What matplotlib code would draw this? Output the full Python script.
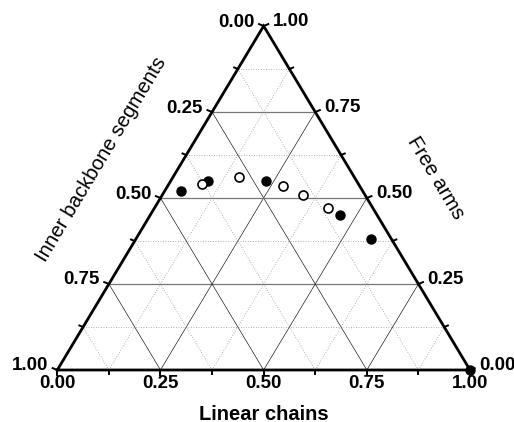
import numpy as np
import matplotlib
matplotlib.use('Agg')
import matplotlib.pyplot as plt

plt.rcParams['font.family'] = ['Liberation Sans', 'DejaVu Sans']

# ternary data (fractions): linear chains, inner backbone segments, free arms
filled_linear = [0.04, 0.09, 0.23, 0.46, 0.57, 1.00]
filled_inner = [0.44, 0.36, 0.22, 0.09, 0.05, 0.00]
filled_free = [0.52, 0.55, 0.55, 0.45, 0.38, 0.00]

open_linear = [0.08, 0.16, 0.28, 0.34, 0.42]
open_inner = [0.38, 0.28, 0.185, 0.15, 0.11]
open_free = [0.54, 0.56, 0.535, 0.51, 0.47]

tick_values = [0.0, 0.25, 0.5, 0.75, 1.0]
tick_labels = ['0.00', '0.25', '0.50', '0.75', '1.00']


def to_xy(linear, free):
    linear = np.asarray(linear, dtype=float)
    free = np.asarray(free, dtype=float)
    return linear + free / 2, free


W, H = 514, 422
x0, ybot, tw, th = 57.3, 370, 412.7, 344
fig = plt.figure(figsize=(W / 100, H / 100), dpi=100)
ax = fig.add_axes([x0 / W, (H - ybot) / H, tw / W, th / H])
ax.set_xlim(0, 1)
ax.set_ylim(0, 1)
ax.axis('off')

# pixel -> data helpers for offsets
px = 1 / tw
py = 1 / th

# grid
levels = np.arange(1, 8) * 0.125
for t in levels:
    major = abs(t / 0.25 - round(t / 0.25)) < 1e-9
    if major:
        kw = dict(color='#222222', lw=0.5, ls='-', zorder=1)
        kwh = dict(color='#777777', lw=0.9, ls='-', zorder=1)
    else:
        kw = dict(color='#999999', lw=0.6, ls=(0, (1, 2)), zorder=1)
        kwh = kw
    # constant free arms (horizontal)
    ax.plot([t / 2, 1 - t / 2], [t, t], **kwh)
    # constant linear chains
    x, y = to_xy([t, t], [0, 1 - t])
    ax.plot(x, y, **kw)
    # constant inner backbone
    x, y = to_xy([1 - t, 0], [0, 1 - t])
    ax.plot(x, y, **kw)

# triangle frame
ax.plot([0, 1, 0.5, 0], [0, 0, 1, 0], color='black', lw=2.0,
        solid_joinstyle='miter', zorder=3, clip_on=False)

# ticks
for t in np.arange(0, 9) * 0.125:
    major = abs(t / 0.25 - round(t / 0.25)) < 1e-9
    L = 5 if major else 4
    # bottom axis
    ax.plot([t, t], [0, -L * py], color='black', lw=1.4, clip_on=False, zorder=3)
    # left axis (free = t on left edge)
    lx, ly = to_xy(0, t)
    ax.plot([lx, lx - L * 0.93 * px], [ly, ly + L * 0.38 * py],
            color='black', lw=1.4, clip_on=False, zorder=3)
    # right axis
    rx, ry = to_xy(1 - t, t)
    ax.plot([rx, rx + L * 0.93 * px], [ry, ry + L * 0.38 * py],
            color='black', lw=1.4, clip_on=False, zorder=3)

tfs = 13.5
for v, lab in zip(tick_values, tick_labels):
    ax.text(v, -13 * py, lab, ha='center', va='center', fontsize=tfs,
            fontweight='bold', clip_on=False)
    # left axis: inner backbone value v at free = 1 - v
    lx, ly = to_xy(0, 1 - v)
    ax.text(lx - 9 * px, ly + 4 * py, lab, ha='right', va='center',
            fontsize=tfs, fontweight='bold', clip_on=False)
    # right axis: free arms value v
    rx, ry = to_xy(1 - v, v)
    ax.text(rx + 9 * px, ry + 5 * py, lab, ha='left', va='center',
            fontsize=tfs, fontweight='bold', clip_on=False)

# data
fx, fy = to_xy(filled_linear, filled_free)
ax.plot(fx, fy, 'o', color='black', ms=6.5, zorder=5, clip_on=False)
ox, oy = to_xy(open_linear, open_free)
ax.plot(ox, oy, 'o', mfc='white', mec='black', mew=1.2, ms=6.5, zorder=5)

# axis titles
ax.text(0.5, -44 * py, 'Linear chains', ha='center', va='center',
        fontsize=14.5, fontweight='bold', clip_on=False)
ax.text((101.5 - x0) * px, (ybot - 159) * py, 'Inner backbone segments',
        ha='center', va='center', rotation=59, rotation_mode='anchor',
        fontsize=14.7, clip_on=False)
ax.text((436 - x0) * px, (ybot - 177.5) * py, 'Free arms',
        ha='center', va='center', rotation=-59, rotation_mode='anchor',
        fontsize=14.7, clip_on=False)

fig.savefig('out.png', dpi=100)
